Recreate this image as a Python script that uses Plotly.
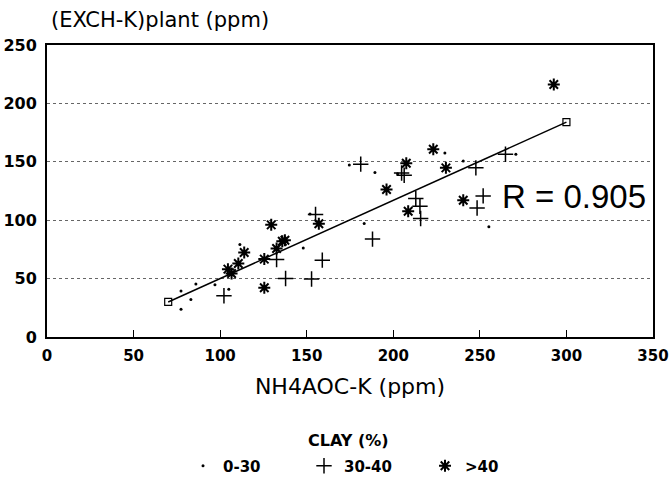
import plotly.graph_objects as go

# Data
clay_low_x = [77.4, 83.1, 77.4, 86.0, 97.0, 105.0, 111.4, 151.9, 148.0, 183.2, 174.6, 189.4, 229.8, 270.8, 240.4, 255.2, 202.5]
clay_low_y = [39.3, 32.2, 23.7, 45.3, 44.7, 40.8, 79.2, 105.4, 76.3, 97.2, 147.3, 140.8, 157.5, 156.4, 150.7, 94.3, 139.7]

clay_mid_x = [102.2, 132.6, 155.1, 188.0, 159.0, 137.8, 152.8, 181.2, 264.8, 204.8, 206.3, 247.7, 213.0, 215.4, 215.8, 251.9, 248.4]
clay_mid_y = [35.3, 66.4, 104.9, 83.8, 65.8, 50.1, 49.6, 148.0, 156.4, 140.4, 138.5, 144.8, 118.5, 112.0, 101.4, 120.8, 110.5]

clay_high_x = [104.5, 106.6, 110.5, 113.9, 125.5, 125.5, 129.5, 157.0, 137.4, 135.9, 132.6, 196.1, 223.1, 207.5, 230.4, 208.6, 240.4, 292.7]
clay_high_y = [58.1, 54.4, 63.0, 72.4, 66.7, 42.2, 96.0, 97.0, 82.9, 82.0, 75.8, 126.3, 160.7, 148.7, 144.8, 107.7, 117.1, 216.2]

fit_x = [70, 300]
fit_y = [30, 184]

x_ticks = [0, 50, 100, 150, 200, 250, 300, 350]
y_ticks = [0, 50, 100, 150, 200, 250]

WIDE = "DejaVu Sans, Verdana, sans-serif"
ARIAL = "Arial, Liberation Sans, Helvetica, sans-serif"

L, R, T, B = 47, 17, 45, 145
PW = 670 - L - R

fig = go.Figure()

fig.add_trace(go.Scatter(
    x=clay_low_x, y=clay_low_y, mode="markers", name="0-30",
    marker=dict(symbol="circle", size=3, color="black"),
))
fig.add_trace(go.Scatter(
    x=clay_mid_x, y=clay_mid_y, mode="markers", name="30-40",
    marker=dict(symbol="cross-thin-open", size=11, color="black",
                line=dict(color="black", width=1.5)),
))
fig.add_trace(go.Scatter(
    x=clay_high_x, y=clay_high_y, mode="markers", name=">40",
    marker=dict(symbol="asterisk-open", size=10, color="black",
                line=dict(color="black", width=2)),
))
fig.add_trace(go.Scatter(
    x=fit_x, y=fit_y, mode="lines+markers", showlegend=False,
    line=dict(color="black", width=1.5),
    marker=dict(symbol="square-open", size=7, color="black",
                line=dict(color="black", width=1.2)),
))

fig.update_layout(
    width=670, height=482,
    margin=dict(l=L, r=R, t=T, b=B, autoexpand=False),
    paper_bgcolor="white", plot_bgcolor="white",
    font=dict(family=WIDE, color="black"),
    showlegend=True,
    legend=dict(
        orientation="h", x=(183 - L) / PW, xanchor="left",
        y=(337 - 466) / 292, yanchor="middle",
        entrywidth=76, entrywidthmode="pixels",
        font=dict(family=WIDE, size=15, color="black", weight="bold"),
        bgcolor="rgba(0,0,0,0)", itemsizing="trace",
    ),
    annotations=[
        dict(text="(EXCH-K)plant (ppm)", xref="paper", yref="paper",
             x=0.0, y=1.0, xshift=2, yshift=25, xanchor="left", yanchor="middle",
             showarrow=False,
             font=dict(family=WIDE, size=21, color="black")),
        dict(text="R = 0.905", xref="x", yref="y", x=347, y=120,
             xanchor="right", yanchor="middle", showarrow=False,
             font=dict(family=ARIAL, size=33, color="black")),
        dict(text="CLAY (%)", xref="paper", yref="paper",
             x=(348.5 - L) / PW, y=(337 - 440) / 292, xanchor="center", yanchor="middle",
             showarrow=False,
             font=dict(family=WIDE, size=16, color="black", weight="bold")),
    ],
)

fig.update_xaxes(
    range=[0, 350], tickvals=x_ticks, ticktext=[str(v) for v in x_ticks],
    showgrid=False, zeroline=False, automargin=False,
    showline=True, linecolor="black", linewidth=2, mirror=True,
    ticks="inside", ticklen=7, tickcolor="black", tickwidth=1,
    ticklabelstandoff=4, ticklabeloverflow="allow",
    tickfont=dict(family=WIDE, size=15, color="black", weight="bold"),
    title=dict(text="NH4AOC-K (ppm)", standoff=15,
               font=dict(family=WIDE, size=22, color="black")),
)
fig.update_yaxes(
    range=[0, 250], tickvals=y_ticks, ticktext=[str(v) for v in y_ticks],
    showgrid=True, gridcolor="#666666", griddash="dot", gridwidth=1,
    zeroline=False, automargin=False,
    showline=True, linecolor="black", linewidth=2, mirror=True,
    ticks="", ticklabelstandoff=5, ticklabeloverflow="allow",
    tickfont=dict(family=WIDE, size=16, color="black", weight="bold"),
)

fig.write_html(
    "out.html",
    config={"displayModeBar": False},
    post_script="document.body.style.margin='0';document.body.style.overflow='hidden';",
)
